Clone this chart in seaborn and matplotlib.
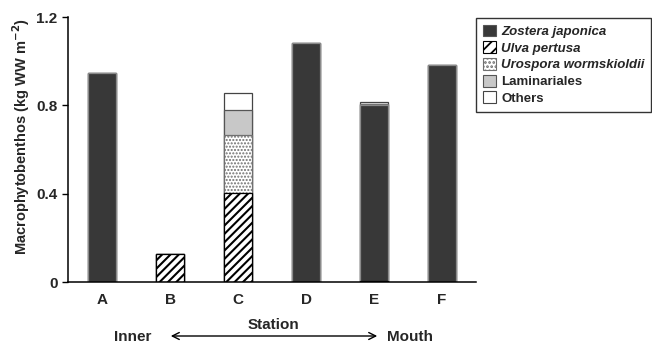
import matplotlib
matplotlib.use("Agg")
import matplotlib.pyplot as plt
import matplotlib.patches as mpatches
import seaborn as sns
import numpy as np

stations = ["A", "B", "C", "D", "E", "F"]
# stacking order bottom -> top
ulva = [0.0, 0.125, 0.404, 0.0, 0.004, 0.0]
zostera = [0.947, 0.0, 0.0, 1.082, 0.796, 0.984]
urospora = [0.0, 0.0, 0.260, 0.0, 0.005, 0.0]
laminariales = [0.0, 0.0, 0.114, 0.0, 0.0, 0.0]
others = [0.0, 0.0, 0.076, 0.0, 0.010, 0.0]

legend_labels = ["Zostera japonica", "Ulva pertusa", "Urospora wormskioldii", "Laminariales", "Others"]
yticks = [0, 0.4, 0.8, 1.2]
ytick_labels = ["0", "0.4", "0.8", "1.2"]

sns.set_theme(style="ticks")
plt.rcParams["font.family"] = ["Liberation Sans", "DejaVu Sans"]
plt.rcParams["font.weight"] = "bold"

fig = plt.figure(figsize=(6.52, 3.45), dpi=100)
W, H = 652, 345
ax = fig.add_axes([68 / W, 1 - 282 / H, (476 - 68) / W, (282 - 17) / H])

layers = [
    # name, values, face, edge, hatch, hatch lw
    ("Ulva", ulva, "white", "black", "////", 1.5),
    ("Zostera", zostera, "#383838", "#8a8a8a", None, 1.0),
    ("Urospora", urospora, "white", "#707070", ".....", 1.0),
    ("Laminariales", laminariales, "#c8c8c8", "#555555", None, 1.0),
    ("Others", others, "white", "#444444", None, 1.0),
]

cum = np.cumsum(np.array([l[1] for l in layers]), axis=0)
bar_w = 0.41
# draw tallest cumulative first so lower layers sit on top
for i in range(len(layers) - 1, -1, -1):
    name, vals, face, edge, hatch, hlw = layers[i]
    plt.rcParams["hatch.linewidth"] = hlw
    sns.barplot(x=stations, y=list(cum[i]), order=stations, color=face,
                saturation=1, edgecolor=edge, linewidth=0.9, hatch=hatch,
                width=bar_w, ax=ax, errorbar=None)

ax.set_xlim(-0.5, 5.5)
ax.set_ylim(0, 1.2)
ax.set_yticks(yticks)
ax.set_yticklabels(ytick_labels, fontsize=11, fontweight="bold")
ax.set_xticks(range(len(stations)))
ax.set_xticklabels(stations, fontsize=11, fontweight="bold")
ax.tick_params(axis="y", direction="out", length=4.5, width=1.0, color="black", pad=3)
ax.tick_params(axis="x", length=0, pad=8)
for s in ["top", "right"]:
    ax.spines[s].set_visible(False)
for s in ["left", "bottom"]:
    ax.spines[s].set_color("black")
    ax.spines[s].set_linewidth(1.1)
ax.set_xlabel("")
ax.set_ylabel("Macrophytobenthos (kg WW m$^{\\mathbf{-2}}$)", fontsize=10.5, fontweight="bold", labelpad=3)
ax.yaxis.label.set_y(0.55)

# legend
plt.rcParams["hatch.linewidth"] = 1.3
handles = [
    mpatches.Patch(facecolor="#383838", edgecolor="#555555", linewidth=0.8),
    mpatches.Patch(facecolor="white", edgecolor="black", hatch="///", linewidth=0.8),
    mpatches.Patch(facecolor="white", edgecolor="#707070", hatch="....", linewidth=0.8),
    mpatches.Patch(facecolor="#c8c8c8", edgecolor="#555555", linewidth=0.8),
    mpatches.Patch(facecolor="white", edgecolor="#444444", linewidth=0.8),
]
leg = fig.legend(handles, legend_labels, loc="upper left",
                 bbox_to_anchor=(476 / W, 1 - 18 / H), frameon=True, fancybox=False,
                 fontsize=9.5, handlelength=1.0, handleheight=1.0, handletextpad=0.4,
                 labelspacing=0.25, borderpad=0.5, borderaxespad=0)
leg.get_frame().set_edgecolor("black")
leg.get_frame().set_linewidth(1.0)
for j, t in enumerate(leg.get_texts()):
    t.set_fontweight("bold")
    if j < 3:
        t.set_fontstyle("italic")

# bottom annotations
fig.text(273 / W, 1 - 325 / H, "Station", ha="center", va="center", fontsize=11, fontweight="bold")
fig.text(133 / W, 1 - 337 / H, "Inner", ha="center", va="center", fontsize=11, fontweight="bold")
fig.text(410 / W, 1 - 337 / H, "Mouth", ha="center", va="center", fontsize=11, fontweight="bold")
fig.add_artist(mpatches.FancyArrowPatch((168 / W, 1 - 336 / H), (380 / W, 1 - 336 / H),
                                        transform=fig.transFigure,
                                        arrowstyle="<->,head_length=5,head_width=2.5",
                                        mutation_scale=1, linewidth=1.0, color="black"))

fig.savefig("out.png", dpi=100)
